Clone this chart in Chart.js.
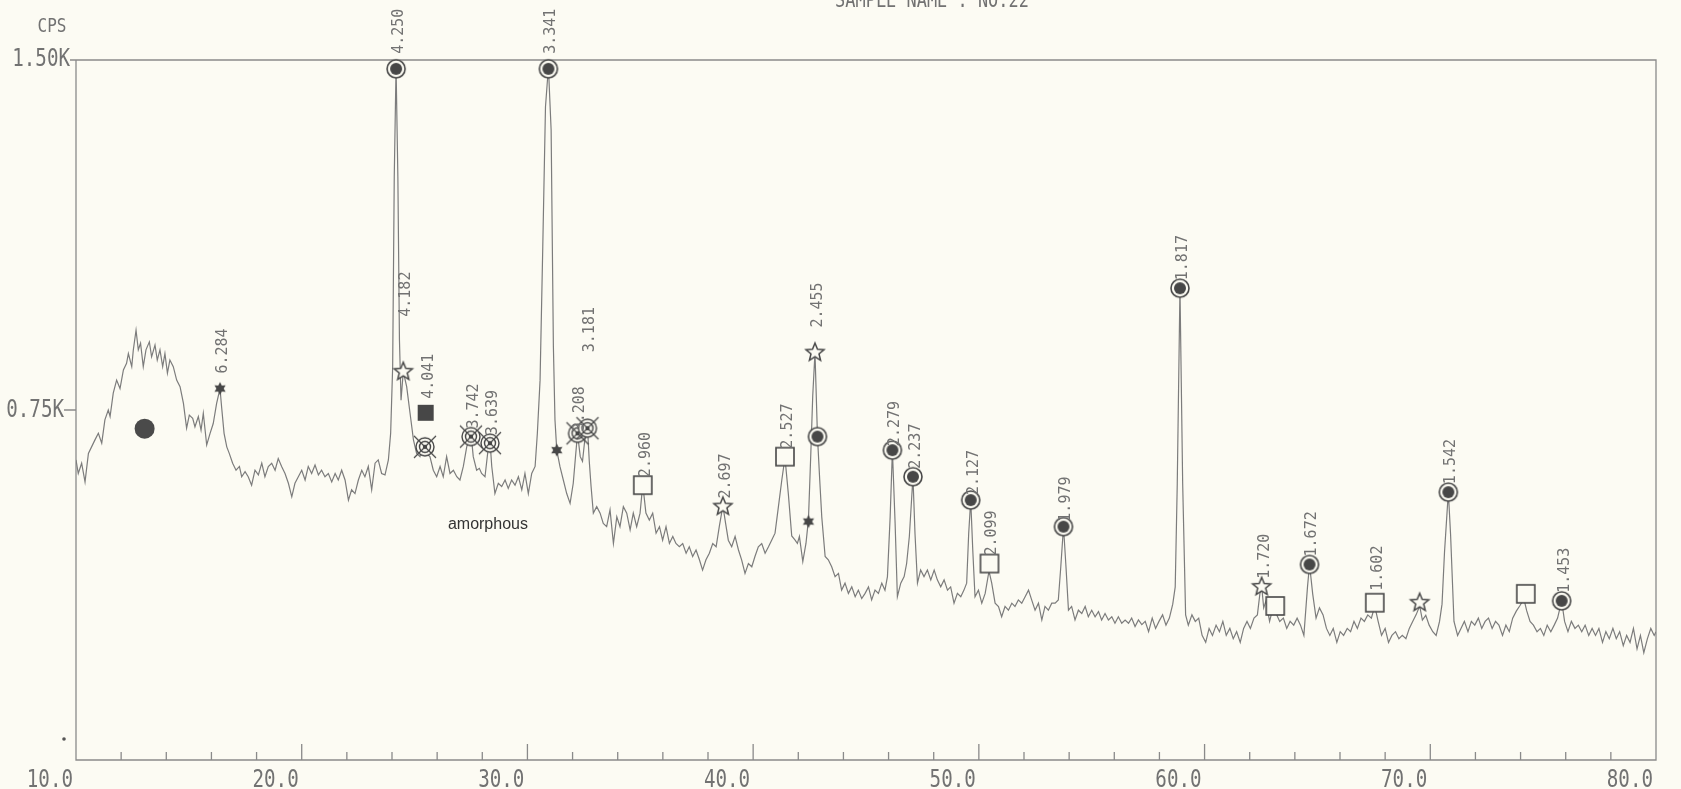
<!DOCTYPE html>
<html>
<head>
<meta charset="utf-8">
<script src="https://cdn.jsdelivr.net/npm/chart.js@4.4.1/dist/chart.umd.min.js"></script>
<style>
html, body { margin: 0; padding: 0; background: #fcfbf3; }
canvas { display: block; }
</style>
</head>
<body>
<canvas id="xrd" width="1681" height="789"></canvas>
<script>
// diffractogram, 2-theta vs counts per second
const scanPoints = [
[10.00,643],[10.10,614],[10.25,636],[10.40,596],[10.55,657],[10.69,671],[10.84,686],[10.99,700],[11.14,679],[11.28,729],
[11.43,750],[11.51,736],[11.65,786],[11.80,814],[11.95,796],[12.10,836],[12.24,850],[12.32,871],[12.47,843],[12.54,879],
[12.66,921],[12.76,879],[12.86,893],[12.98,843],[13.10,879],[13.25,896],[13.35,864],[13.50,889],[13.60,857],[13.72,879],
[13.84,843],[13.94,871],[14.05,829],[14.16,857],[14.31,843],[14.46,814],[14.61,800],[14.76,764],[14.90,711],[15.02,739],
[15.17,732],[15.27,714],[15.42,736],[15.54,707],[15.64,743],[15.79,675],[15.94,700],[16.08,721],[16.23,764],[16.38,796],
[16.45,757],[16.56,700],[16.68,671],[16.79,657],[16.94,636],[17.09,621],[17.24,629],[17.34,607],[17.49,618],[17.63,607],
[17.78,589],[17.93,621],[18.08,611],[18.23,636],[18.37,607],[18.52,629],[18.67,636],[18.82,621],[18.96,646],[19.11,629],
[19.26,614],[19.41,593],[19.56,564],[19.70,593],[19.85,607],[20.00,621],[20.15,600],[20.29,629],[20.44,614],[20.59,632],
[20.74,611],[20.88,621],[21.03,607],[21.18,614],[21.33,596],[21.48,614],[21.62,600],[21.77,621],[21.92,600],[22.07,557],
[22.21,579],[22.36,571],[22.51,600],[22.66,621],[22.80,607],[22.95,629],[23.10,579],[23.25,636],[23.39,643],[23.54,614],
[23.69,611],[23.84,643],[23.94,700],[24.03,843],[24.10,1250],[24.18,1485],[24.26,1250],[24.33,900],[24.40,771],[24.50,832],
[24.65,800],[24.80,743],[24.95,686],[25.09,657],[25.24,650],[25.36,671],[25.46,680],[25.57,655],[25.68,650],[25.83,621],
[25.98,607],[26.13,629],[26.27,607],[26.42,650],[26.57,614],[26.72,621],[26.87,607],[27.01,600],[27.16,629],[27.31,671],
[27.50,700],[27.60,650],[27.75,621],[27.87,625],[27.97,614],[28.12,607],[28.27,671],[28.34,685],[28.42,629],[28.56,571],
[28.71,593],[28.86,586],[29.01,600],[29.15,582],[29.30,600],[29.45,589],[29.60,607],[29.75,579],[29.89,614],[30.04,571],
[30.19,614],[30.34,629],[30.44,700],[30.56,814],[30.68,1100],[30.80,1400],[30.93,1485],[31.05,1350],[31.15,886],[31.22,729],
[31.30,664],[31.44,629],[31.59,600],[31.74,571],[31.89,550],[32.03,593],[32.13,650],[32.22,700],[32.34,650],[32.44,640],
[32.55,690],[32.66,714],[32.74,640],[32.82,586],[32.92,529],[33.07,543],[33.22,529],[33.36,507],[33.51,500],[33.66,536],
[33.81,464],[33.96,521],[34.10,500],[34.25,543],[34.40,529],[34.55,493],[34.69,529],[34.84,500],[34.99,529],[35.11,590],
[35.25,529],[35.40,514],[35.55,529],[35.70,486],[35.85,500],[35.99,471],[36.14,500],[36.29,464],[36.44,479],[36.58,464],
[36.73,457],[36.88,464],[37.03,443],[37.17,457],[37.32,436],[37.47,450],[37.62,429],[37.76,407],[37.91,429],[38.06,443],
[38.21,464],[38.36,457],[38.50,500],[38.66,545],[38.78,507],[38.90,471],[39.05,457],[39.20,479],[39.35,450],[39.49,429],
[39.64,400],[39.79,421],[39.94,414],[40.08,436],[40.23,457],[40.38,464],[40.53,443],[40.68,457],[40.82,471],[40.97,486],
[41.12,543],[41.27,600],[41.41,648],[41.56,570],[41.71,480],[41.86,471],[41.96,464],[42.05,479],[42.20,425],[42.34,464],
[42.45,515],[42.55,650],[42.64,780],[42.74,873],[42.85,693],[42.95,600],[43.04,521],[43.19,436],[43.33,429],[43.48,414],
[43.63,393],[43.78,400],[43.92,364],[44.07,379],[44.22,357],[44.37,371],[44.52,350],[44.66,364],[44.81,346],[44.96,357],
[45.11,371],[45.25,343],[45.40,364],[45.55,357],[45.70,379],[45.84,364],[45.95,393],[46.07,521],[46.17,664],[46.29,507],
[46.39,350],[46.54,379],[46.69,393],[46.80,421],[46.92,479],[47.08,607],[47.17,486],[47.28,379],[47.42,407],[47.57,393],
[47.72,407],[47.87,386],[48.02,407],[48.16,386],[48.31,371],[48.46,386],[48.61,364],[48.75,371],[48.90,336],[49.05,357],
[49.20,350],[49.34,364],[49.46,379],[49.55,486],[49.64,557],[49.73,450],[49.83,350],[49.98,364],[50.13,336],[50.28,357],
[50.45,405],[50.57,379],[50.72,336],[50.87,329],[51.01,307],[51.16,329],[51.31,321],[51.46,336],[51.60,329],[51.75,343],
[51.90,336],[52.05,350],[52.20,364],[52.34,343],[52.49,321],[52.64,336],[52.79,300],[52.93,329],[53.08,321],[53.23,336],
[53.38,336],[53.52,343],[53.63,414],[53.75,500],[53.86,414],[53.97,321],[54.11,329],[54.26,300],[54.41,321],[54.56,314],
[54.71,329],[54.85,307],[55.00,321],[55.15,307],[55.30,318],[55.44,300],[55.59,314],[55.74,300],[55.89,307],[56.03,293],
[56.18,307],[56.33,293],[56.48,300],[56.63,293],[56.77,304],[56.92,286],[57.07,300],[57.22,290],[57.37,297],[57.52,275],
[57.68,304],[57.83,282],[57.98,297],[58.14,311],[58.29,289],[58.44,304],[58.59,334],[58.70,371],[58.79,592],[58.91,1011],
[59.03,592],[59.16,311],[59.28,289],[59.44,311],[59.59,297],[59.74,304],[59.89,267],[60.05,252],[60.20,282],[60.35,267],
[60.51,289],[60.66,275],[60.81,297],[60.96,267],[61.12,282],[61.27,260],[61.42,275],[61.58,252],[61.73,282],[61.88,297],
[62.03,282],[62.19,304],[62.34,311],[62.45,356],[62.53,372],[62.62,326],[62.72,341],[62.88,297],[63.03,326],[63.13,318],
[63.33,297],[63.49,304],[63.64,282],[63.79,297],[63.95,289],[64.10,304],[64.25,289],[64.40,267],[64.56,371],[64.65,419],
[64.79,356],[64.94,304],[65.09,326],[65.25,311],[65.40,282],[65.55,267],[65.70,282],[65.86,252],[66.01,275],[66.16,267],
[66.32,282],[66.47,275],[66.62,297],[66.77,282],[66.93,304],[67.08,297],[67.23,311],[67.39,304],[67.54,330],[67.69,297],
[67.84,267],[68.00,282],[68.15,252],[68.30,267],[68.46,275],[68.61,260],[68.76,267],[68.92,260],[69.07,282],[69.22,297],
[69.37,311],[69.53,330],[69.65,300],[69.80,310],[69.95,289],[70.11,275],[70.26,267],[70.41,297],[70.52,334],[70.63,445],
[70.80,574],[70.90,482],[71.05,297],[71.21,267],[71.36,282],[71.51,297],[71.67,275],[71.82,297],[71.97,289],[72.13,304],
[72.28,282],[72.43,297],[72.58,304],[72.74,282],[72.89,297],[73.04,289],[73.20,267],[73.35,289],[73.50,275],[73.65,304],
[73.81,319],[73.96,330],[74.15,345],[74.27,320],[74.42,297],[74.57,289],[74.73,275],[74.88,282],[75.03,267],[75.18,289],
[75.34,275],[75.49,289],[75.64,304],[75.82,341],[75.95,297],[76.10,275],[76.25,297],[76.41,282],[76.56,289],[76.71,275],
[76.86,289],[77.02,267],[77.17,282],[77.32,267],[77.47,282],[77.63,252],[77.78,275],[77.93,260],[78.09,282],[78.24,260],
[78.39,275],[78.55,245],[78.70,267],[78.85,252],[79.00,282],[79.16,238],[79.31,267],[79.46,230],[79.62,260],[79.77,282],
[79.92,267],[80.00,275]
];

// identified peaks per phase symbol: [2theta, cps, d-spacing]
const ringPeaks = [[24.18,1481,'4.250'],[30.93,1481,'3.341'],[42.85,693,''],[46.17,664,'2.279'],[47.08,607,'2.237'],
  [49.64,557,'2.127'],[53.75,500,'1.979'],[58.91,1011,'1.817'],[64.65,419,'1.672'],[70.80,574,'1.542'],[75.82,341,'1.453']];
const openStarPeaks = [[24.50,832,'4.182'],[38.66,543,'2.697'],[42.74,873,'2.455'],[62.53,371,'1.720'],[69.53,337,'']];
const smallStarPeaks = [[16.38,796,'6.284'],[31.30,664,''],[42.45,511,'']];
const solidSquarePeaks = [[25.49,744,'4.041']];
const targetPeaks = [[25.46,671,''],[27.50,693,'3.742'],[28.34,679,'3.639'],[32.22,700,'3.208'],[32.66,711,'3.181']];
const openSquarePeaks = [[35.11,589,'2.960'],[41.41,650,'2.527'],[50.47,421,'2.099'],[63.13,330,''],
  [67.54,337,'1.602'],[74.23,356,'']];
const amorphousMark = [[13.04,710]];
const amorphousNote = [28.25, 504, 'amorphous'];

const xTicks = [10, 20, 30, 40, 50, 60, 70, 80];
const xTickText = ['10.0', '20.0', '30.0', '40.0', '50.0', '60.0', '70.0', '80.0'];
const yTicks = [750, 1500];
const yTickText = ['0.75K', '1.50K'];

// how far each d-spacing label starts above its symbol, px
const labelLift = {'4.250': 15, '3.341': 15, '6.284': 15, '4.182': 55, '4.041': 14, '3.181': 76,
  '3.208': 2, '2.455': 25, '2.279': 4, '2.127': 5, '1.979': 5, '1.602': 12};

const paper = '#fcfbf3';
const ink = '#474747';
const pen = '#727272';
const plotterFont = '"DejaVu Sans Mono", monospace';

function icon(size, draw) {
  const c = document.createElement('canvas');
  c.width = c.height = size;
  const g = c.getContext('2d');
  g.translate(size / 2, size / 2);
  draw(g);
  return c;
}
function starPath(g, n, ro, ri) {
  g.beginPath();
  for (let i = 0; i < 2 * n; i++) {
    const r = i % 2 ? ri : ro;
    const a = -Math.PI / 2 + i * Math.PI / n;
    g.lineTo(r * Math.cos(a), r * Math.sin(a));
  }
  g.closePath();
}

const ringIcon = icon(22, g => {
  g.beginPath(); g.arc(0, 0, 9, 0, 2 * Math.PI);
  g.fillStyle = paper; g.fill();
  g.lineWidth = 1.6; g.strokeStyle = ink; g.stroke();
  g.beginPath(); g.arc(0, 0, 6, 0, 2 * Math.PI);
  g.fillStyle = ink; g.fill();
});
const openStarIcon = icon(24, g => {
  starPath(g, 5, 9.5, 4.2);
  g.fillStyle = paper; g.fill();
  g.lineWidth = 1.5; g.strokeStyle = ink; g.stroke();
});
const smallStarIcon = icon(16, g => {
  starPath(g, 6, 6.5, 3.6);
  g.fillStyle = ink; g.fill();
});
const solidSquareIcon = icon(20, g => {
  g.fillStyle = ink; g.fillRect(-8, -8, 16, 16);
});
const targetIcon = icon(28, g => {
  g.beginPath(); g.arc(0, 0, 9, 0, 2 * Math.PI);
  g.fillStyle = paper; g.fill();
  g.lineWidth = 1.4; g.strokeStyle = ink; g.stroke();
  g.beginPath(); g.arc(0, 0, 5.5, 0, 2 * Math.PI); g.stroke();
  g.beginPath(); g.arc(0, 0, 2.2, 0, 2 * Math.PI); g.fillStyle = ink; g.fill();
  g.lineWidth = 1.2;
  g.beginPath();
  g.moveTo(-11, -11); g.lineTo(11, 11);
  g.moveTo(-11, 11); g.lineTo(11, -11);
  g.stroke();
});
const openSquareIcon = icon(22, g => {
  g.fillStyle = paper; g.fillRect(-9, -9, 18, 18);
  g.lineWidth = 1.6; g.strokeStyle = ink; g.strokeRect(-9, -9, 18, 18);
});

function markerSet(list, style) {
  return {
    type: 'scatter',
    data: list.map(p => ({x: p[0], y: p[1], d: p[2] || ''})),
    pointStyle: style,
    pointRadius: 9,
    clip: false
  };
}

function plotText(ctx, text, x, y, size, align, sx) {
  ctx.save();
  ctx.translate(x, y);
  ctx.scale(sx, 1);
  ctx.font = size + 'px ' + plotterFont;
  ctx.textAlign = align;
  ctx.textBaseline = 'middle';
  ctx.fillText(text, 0, 0);
  ctx.restore();
}

const plotterFrame = {
  id: 'plotterFrame',
  beforeDatasetsDraw(chart) {
    const {ctx, chartArea: a, scales: {x, y}} = chart;
    ctx.save();
    ctx.strokeStyle = '#8a8a8a';
    ctx.lineWidth = 1.3;
    ctx.beginPath();
    ctx.moveTo(a.left - 6, a.top); ctx.lineTo(a.right, a.top);
    ctx.lineTo(a.right, a.bottom); ctx.lineTo(a.left, a.bottom);
    ctx.lineTo(a.left, a.top);
    ctx.stroke();
    // minor ticks every 2 degrees, major every 10
    ctx.beginPath();
    for (let v = 12; v < 80; v += 2) {
      const px = x.getPixelForValue(v);
      const h = v % 10 === 0 ? 16 : 8;
      ctx.moveTo(px, a.bottom); ctx.lineTo(px, a.bottom - h);
    }
    ctx.moveTo(a.left - 12, y.getPixelForValue(yTicks[0]));
    ctx.lineTo(a.left, y.getPixelForValue(yTicks[0]));
    ctx.stroke();

    ctx.fillStyle = pen;
    xTicks.forEach((v, i) => plotText(ctx, xTickText[i], x.getPixelForValue(v) - 3, a.bottom + 21, 24, 'right', 0.8));
    plotText(ctx, yTickText[0], a.left - 12, y.getPixelForValue(yTicks[0]) + 1, 24, 'right', 0.8);
    plotText(ctx, yTickText[1], a.left - 6, y.getPixelForValue(yTicks[1]), 24, 'right', 0.8);
    plotText(ctx, 'CPS', 52, 27, 20, 'center', 0.8);
    plotText(ctx, 'SAMPLE NAME : NO.22', 932, 1, 22, 'center', 0.77);

    ctx.beginPath();
    ctx.arc(a.left - 12, a.bottom - 21, 1.8, 0, 2 * Math.PI);
    ctx.fillStyle = '#555';
    ctx.fill();

    ctx.font = '16px "Liberation Sans", Arial, sans-serif';
    ctx.fillStyle = '#333';
    ctx.textAlign = 'center';
    ctx.textBaseline = 'middle';
    ctx.fillText(amorphousNote[2], x.getPixelForValue(amorphousNote[0]), y.getPixelForValue(amorphousNote[1]));
    ctx.restore();
  },
  afterDatasetsDraw(chart) {
    const {ctx, scales: {x, y}} = chart;
    ctx.save();
    ctx.fillStyle = pen;
    ctx.font = '15px ' + plotterFont;
    ctx.textAlign = 'left';
    ctx.textBaseline = 'middle';
    chart.data.datasets.forEach(ds => {
      ds.data.forEach(p => {
        if (!p.d) return;
        const lift = labelLift[p.d] !== undefined ? labelLift[p.d] : 8;
        ctx.save();
        ctx.translate(x.getPixelForValue(p.x) + 3, y.getPixelForValue(p.y) - lift);
        ctx.rotate(-Math.PI / 2);
        ctx.fillText(p.d, 0, 0);
        ctx.restore();
      });
    });
    ctx.restore();
  }
};

const configScan = {
  data: {
    datasets: [
      markerSet(ringPeaks, ringIcon),
      markerSet(openStarPeaks, openStarIcon),
      markerSet(smallStarPeaks, smallStarIcon),
      markerSet(solidSquarePeaks, solidSquareIcon),
      markerSet(targetPeaks, targetIcon),
      markerSet(openSquarePeaks, openSquareIcon),
      {
        type: 'scatter',
        data: amorphousMark.map(p => ({x: p[0], y: p[1]})),
        pointStyle: 'circle',
        pointRadius: 10,
        backgroundColor: '#4a4a4a',
        borderWidth: 0
      },
      {
        type: 'line',
        data: scanPoints.map(p => ({x: p[0], y: p[1]})),
        borderColor: '#7c7c7c',
        borderWidth: 1.2,
        pointRadius: 0,
        tension: 0
      }
    ]
  },
  options: {
    responsive: false,
    animation: false,
    devicePixelRatio: 1,
    layout: { padding: { left: 76, right: 25, top: 60, bottom: 29 } },
    plugins: { legend: { display: false }, tooltip: { enabled: false } },
    scales: {
      x: { type: 'linear', min: 10, max: 80, display: false },
      y: { type: 'linear', min: 0, max: 1500, display: false }
    }
  },
  plugins: [plotterFrame]
};

var chartScan = new Chart(document.getElementById('xrd'), configScan);
</script>
</body>
</html>
